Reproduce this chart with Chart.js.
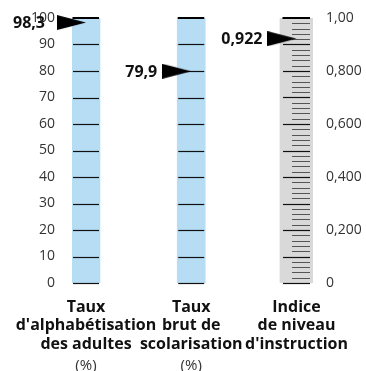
<!DOCTYPE html>
<html>
<head>
<meta charset="utf-8">
<script src="https://cdn.jsdelivr.net/npm/chart.js@4"></script>
<style>
  html, body { margin: 0; padding: 0; background: #fff; }
  #wrap { width: 366px; height: 371px; }
</style>
</head>
<body>
<div id="wrap"><canvas id="myChart"></canvas></div>
<script>
// Données du graphique
const categories = [
    ["Taux", "d'alphabétisation", "des adultes"],
    ["Taux", "brut de", "scolarisation"],
    ["Indice", "de niveau", "d'instruction"]
];
const units = ["(%)", "(%)", ""];
const columnPos = [1, 2, 3];
const values = [98.3, 79.9, 0.922];
const valueLabels = ["98,3", "79,9", "0,922"];
const barMax = [100, 100, 1];
const pctTicks = [0, 10, 20, 30, 40, 50, 60, 70, 80, 90, 100];
const indexTicks = [0, 0.2, 0.4, 0.6, 0.8, 1];
const indexTickLabels = ["0", "0,200", "0,400", "0,600", "0,800", "1,00"];

const FONT = "'Open Sans', sans-serif";
Chart.defaults.font.family = FONT;

// Triangle noir (pointe à droite), la pointe au centre de l'image
function makePointer() {
    const c = document.createElement('canvas');
    c.width = 58; c.height = 15;
    const g = c.getContext('2d');
    g.fillStyle = '#000';
    g.beginPath();
    g.moveTo(0, 0);
    g.lineTo(29, 7.5);
    g.lineTo(0, 15);
    g.closePath();
    g.fill();
    return c;
}
const pointer = makePointer();

// Graduations dessinées dans chaque barre
const scaleMarks = {
    id: 'scaleMarks',
    afterDatasetDraw(chart, args) {
        const ds = chart.data.datasets[args.index];
        if (!ds.marks) return;
        const ctx = chart.ctx;
        const yScale = chart.scales[ds.yAxisID];
        const xScale = chart.scales.x;
        const m = ds.marks;
        ds.data.forEach(p => {
            const cx = xScale.getPixelForValue(p.x);
            const n = Math.round(p.y / m.step);
            ctx.save();
            for (let i = 0; i <= n; i++) {
                const y = Math.round(yScale.getPixelForValue(i * m.step));
                ctx.beginPath();
                if (i === n) {
                    ctx.lineWidth = 2;
                    ctx.strokeStyle = '#000';
                    ctx.moveTo(cx - m.half - 0.5, y);
                    ctx.lineTo(cx + m.half, y);
                } else if (i % m.majorEvery === 0) {
                    ctx.lineWidth = 1.2;
                    ctx.strokeStyle = '#111';
                    ctx.moveTo(cx - m.half, y + 0.5);
                    ctx.lineTo(cx + m.half, y + 0.5);
                } else {
                    ctx.lineWidth = 1;
                    ctx.strokeStyle = '#555';
                    ctx.moveTo(cx - 4.5, y + 0.5);
                    ctx.lineTo(cx + m.half, y + 0.5);
                }
                ctx.stroke();
            }
            ctx.restore();
        });
    }
};

// Valeurs écrites à gauche des flèches
const valueText = {
    id: 'valueText',
    afterDatasetsDraw(chart) {
        const ctx = chart.ctx;
        ctx.save();
        ctx.font = 'bold 16px ' + FONT;
        ctx.fillStyle = '#111';
        ctx.textAlign = 'right';
        ctx.textBaseline = 'middle';
        chart.data.datasets.forEach((ds, di) => {
            if (!ds.valueLabels) return;
            chart.getDatasetMeta(di).data.forEach((pt, i) => {
                const gap = ds.data[i].x === 1 ? 12 : 5;
                ctx.fillText(ds.valueLabels[i], pt.x - 29 - gap, pt.y + 1);
            });
        });
        ctx.restore();
    }
};

const tickFont = { family: FONT, size: 14 };

// l'axe horizontal ne doit pas réserver de marge pour ses étiquettes
const noSidePad = s => { s.paddingLeft = 0; s.paddingRight = 0; };

const ctx = document.getElementById('myChart').getContext('2d');
const myChart = new Chart(ctx, {
    type: 'bar',
    data: {
        datasets: [
            {
                type: 'bar',
                data: [0, 1].map(i => ({ x: columnPos[i], y: barMax[i] })),
                yAxisID: 'y',
                backgroundColor: '#b7ddf5',
                barThickness: 28,
                grouped: false,
                order: 3,
                marks: { step: 10, majorEvery: 1, half: 13 }
            },
            {
                type: 'bar',
                data: [{ x: columnPos[2], y: barMax[2] }],
                yAxisID: 'y2',
                backgroundColor: '#d9d9d9',
                barThickness: 33,
                grouped: false,
                order: 3,
                marks: { step: 0.02, majorEvery: 5, half: 13.5 }
            },
            {
                type: 'scatter',
                data: [0, 1].map(i => ({ x: columnPos[i], y: values[i] })),
                valueLabels: valueLabels.slice(0, 2),
                yAxisID: 'y',
                pointStyle: pointer,
                clip: false,
                order: 1
            },
            {
                type: 'scatter',
                data: [{ x: columnPos[2], y: values[2] }],
                valueLabels: valueLabels.slice(2),
                yAxisID: 'y2',
                pointStyle: pointer,
                clip: false,
                order: 1
            }
        ]
    },
    options: {
        responsive: true,
        maintainAspectRatio: false,
        animation: false,
        layout: { padding: { left: 32, right: 5, top: 18, bottom: 0 } },
        plugins: { legend: { display: false }, tooltip: { enabled: false } },
        scales: {
            x: {
                type: 'linear',
                position: 'bottom',
                weight: 0,
                offset: false,
                min: 0.867,
                max: 3.157,
                grid: { display: false },
                border: { display: false },
                afterBuildTicks: s => { s.ticks = columnPos.map(v => ({ value: v })); },
                afterFit: s => { s.height = 66; noSidePad(s); },
                ticks: {
                    autoSkip: false,
                    maxRotation: 0,
                    padding: 7,
                    color: '#111',
                    font: { family: FONT, size: 16, weight: 'bold', lineHeight: 1.16 },
                    callback: v => categories[columnPos.indexOf(v)]
                }
            },
            x2: {
                type: 'linear',
                position: 'bottom',
                weight: 1,
                offset: false,
                min: 0.867,
                max: 3.157,
                grid: { display: false },
                border: { display: false },
                afterBuildTicks: s => { s.ticks = columnPos.map(v => ({ value: v })); },
                afterFit: s => { s.height = 22; noSidePad(s); },
                ticks: {
                    autoSkip: false,
                    maxRotation: 0,
                    padding: 0,
                    color: '#333',
                    font: { family: FONT, size: 15 },
                    callback: v => units[columnPos.indexOf(v)]
                }
            },
            y: {
                position: 'left',
                min: 0,
                max: 100,
                grid: { display: false },
                border: { display: false },
                afterBuildTicks: s => { s.ticks = pctTicks.map(v => ({ value: v })); },
                afterFit: s => { s.width = 40; },
                ticks: { padding: 9, color: '#333', font: tickFont, callback: v => String(v) }
            },
            y2: {
                position: 'right',
                min: 0,
                max: 1,
                grid: { display: false },
                border: { display: false },
                afterBuildTicks: s => { s.ticks = indexTicks.map(v => ({ value: v })); },
                afterFit: s => { s.width = 48; },
                ticks: {
                    padding: 5,
                    color: '#333',
                    font: tickFont,
                    callback: v => indexTickLabels[indexTicks.indexOf(v)]
                }
            }
        }
    },
    plugins: [scaleMarks, valueText]
});
</script>
</body>
</html>
